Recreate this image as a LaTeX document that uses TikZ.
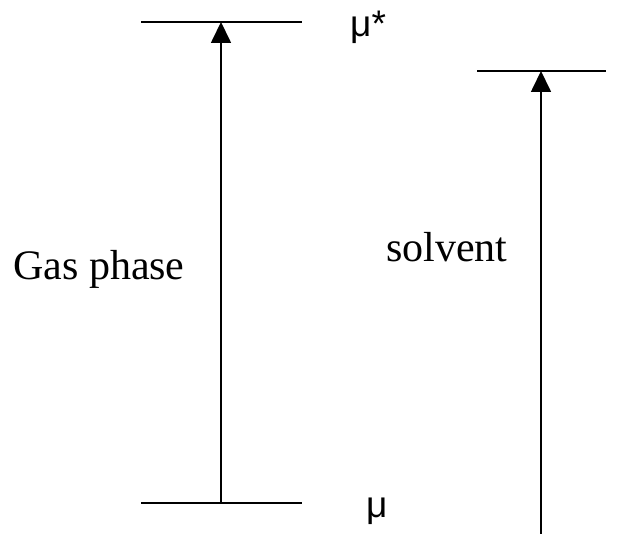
\documentclass[tikz,border=0pt]{standalone}
\usepackage{fontspec}
\setmainfont{Liberation Serif}
\newfontfamily\musans{Liberation Sans}
\usetikzlibrary{arrows.meta}
\begin{document}
\begin{tikzpicture}[x=1pt,y=1pt,
  level/.style={line width=1.7pt},
  rise/.style={line width=1.7pt,-{Triangle[width=20pt,length=21pt]}},
  lbl/.style={inner sep=0pt,anchor=base west,font=\fontsize{42}{48}\selectfont},
  pot/.style={inner sep=0pt,anchor=base west,font=\musans\fontsize{37}{40}\selectfont}]
  \useasboundingbox (0,0) rectangle (634,534);

  % gas phase: mu -> mu*
  \coordinate (gasLow) at (221,31);
  \coordinate (gasHigh) at (221,512);
  \draw[level] ([xshift=-80pt]gasHigh) -- ([xshift=81pt]gasHigh);
  \draw[level] ([xshift=-80pt]gasLow) -- ([xshift=81pt]gasLow);
  \draw[rise] (gasLow) -- (gasHigh);
  \node[pot] (muStar) at (350,497) {μ*};
  \node[pot] (muLow) at (366,16) {μ};
  \node[lbl] (gasLbl) at (13,254) {Gas phase};

  % solvent
  \coordinate (solvLow) at (541,0);
  \coordinate (solvHigh) at (541,463);
  \draw[level] ([xshift=-64pt]solvHigh) -- ([xshift=65pt]solvHigh);
  \draw[rise] (solvLow) -- (solvHigh);
  \node[lbl] (solvLbl) at (386,272) {solvent};
\end{tikzpicture}
\end{document}
